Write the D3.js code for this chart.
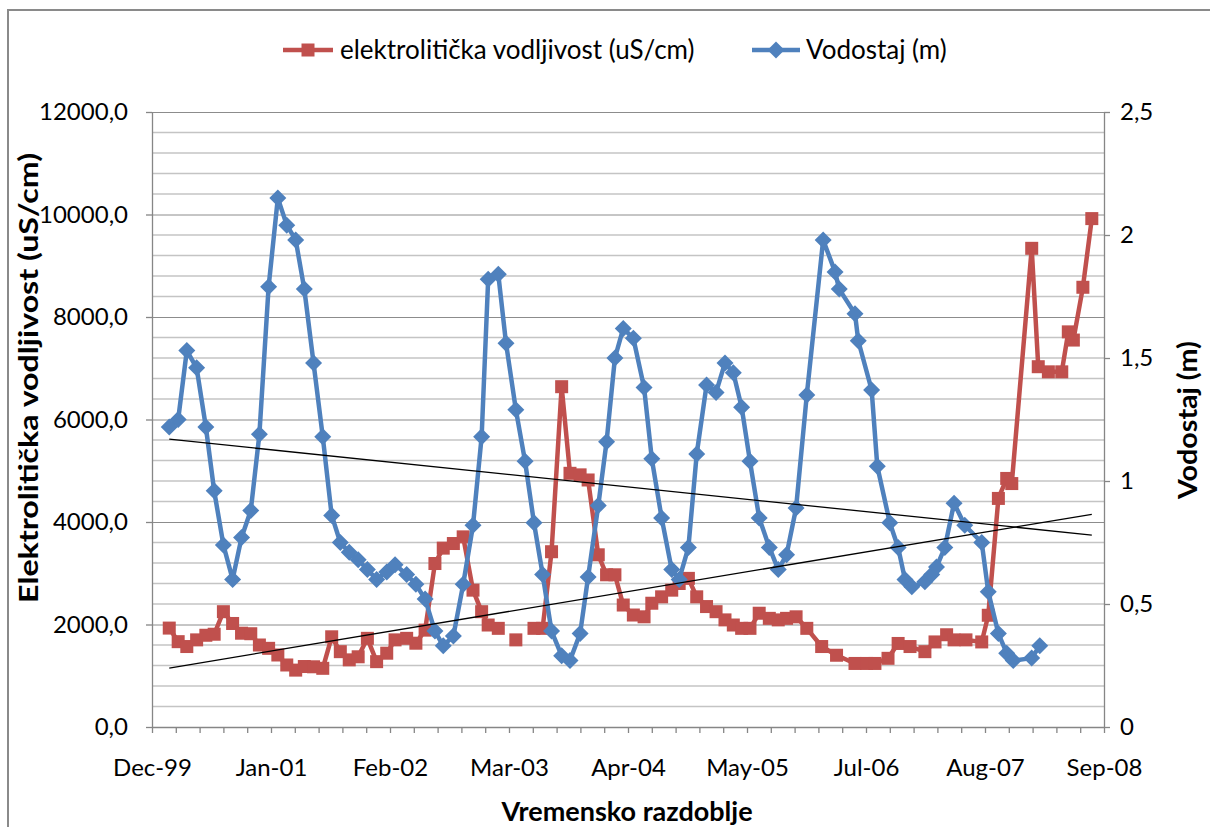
<!DOCTYPE html>
<html lang="hr">
<head>
<meta charset="UTF-8">
<title>Elektrolitička vodljivost i vodostaj</title>
<script src="https://cdn.jsdelivr.net/npm/d3@7"></script>
<style>
  body { margin: 0; background: #fff; }
  svg text { font-family: Lato, "Noto Sans", sans-serif; fill: #000; }
</style>
</head>
<body>
<svg width="1210" height="827"></svg>
<script>
// Vodostaj (m) - datumi mjerenja i vrijednosti
var datesVodostaj = [
  "2000-02-03","2000-03-04","2000-04-02","2000-05-05","2000-06-05","2000-07-03","2000-08-03","2000-09-03",
  "2000-10-03","2000-11-03","2000-12-02","2001-01-02","2001-02-02","2001-03-04","2001-04-03","2001-05-02",
  "2001-06-02","2001-07-03","2001-08-02","2001-08-31","2001-09-30","2001-10-30","2001-11-30","2001-12-31",
  "2002-02-03","2002-03-03","2002-04-11","2002-05-12","2002-06-12","2002-07-15","2002-08-12","2002-09-15",
  "2002-10-18","2002-11-20","2002-12-19","2003-01-10","2003-02-13","2003-03-11","2003-04-13","2003-05-14",
  "2003-06-13","2003-07-12","2003-08-11","2003-09-14","2003-10-12","2003-11-15","2003-12-12","2004-01-15",
  "2004-02-12","2004-03-11","2004-04-08","2004-05-12","2004-06-17","2004-07-13","2004-08-15","2004-09-18",
  "2004-10-13","2004-11-13","2004-12-11","2005-01-13","2005-02-14","2005-03-16","2005-04-13","2005-05-11",
  "2005-06-08","2005-07-09","2005-08-12","2005-09-11","2005-10-09","2005-11-10","2005-12-16","2006-02-09",
  "2006-03-21","2006-04-04","2006-05-27","2006-06-07","2006-07-22","2006-08-10","2006-09-21","2006-10-19",
  "2006-11-11","2006-12-04","2007-01-17","2007-02-09","2007-02-25","2007-03-25","2007-04-25","2007-05-31",
  "2007-07-27","2007-08-18","2007-09-21","2007-10-19","2007-11-10","2008-01-11","2008-02-07"
];
var vodostaj = [
  1.22, 1.25, 1.53, 1.46, 1.22, 0.96, 0.74, 0.60, 0.77, 0.88, 1.19, 1.79, 2.15, 2.04, 1.98, 1.78,
  1.48, 1.18, 0.86, 0.75, 0.71, 0.68, 0.64, 0.60, 0.63, 0.66, 0.62, 0.58, 0.52, 0.39, 0.33, 0.37,
  0.58, 0.82, 1.18, 1.82, 1.84, 1.56, 1.29, 1.08, 0.83, 0.62, 0.39, 0.29, 0.27, 0.38, 0.61, 0.90,
  1.16, 1.50, 1.62, 1.58, 1.38, 1.09, 0.85, 0.64, 0.60, 0.73, 1.11, 1.39, 1.36, 1.48, 1.44, 1.30,
  1.08, 0.85, 0.73, 0.64, 0.70, 0.89, 1.35, 1.98, 1.85, 1.78, 1.68, 1.57, 1.37, 1.06, 0.83, 0.73,
  0.60, 0.57, 0.59, 0.62, 0.65, 0.73, 0.91, 0.82, 0.75, 0.55, 0.38, 0.30, 0.27, 0.28, 0.33
];

// elektrolitička vodljivost (uS/cm); null = nema mjerenja
var datesVodljivost = datesVodostaj.slice(0, 71).concat([
  "2006-02-04","2006-03-26","2006-05-27","2006-07-05","2006-08-02","2006-09-15","2006-10-19","2006-11-28",
  "2007-01-17","2007-02-20","2007-03-31","2007-04-25","2007-06-04","2007-07-27","2007-08-18","2007-09-21",
  "2007-10-19","2007-11-05","2008-01-11","2008-02-02","2008-03-07","2008-04-21","2008-05-13","2008-05-30",
  "2008-07-01","2008-07-31"
]);
var vodljivost = [
  1930, 1665, 1570, 1700, 1790, 1810, 2250, 2020, 1830, 1820, 1600, 1535, 1405, 1210, 1110, 1180,
  1175, 1145, 1760, 1470, 1310, 1370, 1730, 1275, 1440, 1700, 1730, 1635, 1890, 3190, 3490, 3580,
  3710, 2670, 2250, 1990, 1925, null, 1700, null, 1925, 1925, 3420, 6640, 4950, 4920, 4820, 3360,
  2970, 2970, 2380, 2185, 2150, 2415, 2540, 2670, 2800, 2900, 2540, 2350, 2250, 2090, 1990, 1925,
  1925, 2220, 2120, 2090, 2120, 2150, 1925,
  1570, 1400, 1240, 1240, 1240, 1340, 1630, 1570, 1470, 1660, 1800, 1700, 1700, 1660, 2180, 4460,
  4850, 4750, 9340, 7030, 6930, 6930, 7710, 7550, 8580, 9920
];

// linear trendlines, values at first and last measurement date
var trendDates = ["2000-02-03", "2008-07-31"];
var trendVodljivost = [1150, 4150];
var trendVodostaj = [1.17, 0.78];

var leftTicks = [0, 2000, 4000, 6000, 8000, 10000, 12000];
var rightTicks = [0, 0.5, 1, 1.5, 2, 2.5];
var seriesNames = ["elektrolitička vodljivost (uS/cm)", "Vodostaj (m)"];
var redColor = "#C0504D", blueColor = "#4F81BD";

var parse = d3.timeParse("%Y-%m-%d");
var svg = d3.select("svg");
var plotL = 152, plotR = 1104, plotT = 112, plotB = 727;

// Excel date axis: start 7.12.1999, major unit 400 days, minor 80 days
var axisStart = new Date(1999, 11, 7);
var x = d3.scaleTime().domain([axisStart, d3.timeDay.offset(axisStart, 3200)]).range([plotL, plotR]);
var yL = d3.scaleLinear().domain([0, 12000]).range([plotB, plotT]);
var yR = d3.scaleLinear().domain([0, 2.5]).range([plotB, plotT]);

var vodData = datesVodostaj.map(function(d, i) { return { date: parse(d), v: vodostaj[i] }; });
var elData = datesVodljivost.map(function(d, i) { return { date: parse(d), v: vodljivost[i] }; });

// chart frame
svg.append("rect").attr("x", 8).attr("y", 10).attr("width", 1300).attr("height", 900)
  .attr("fill", "none").attr("stroke", "#8a8a8a").attr("stroke-width", 2);

// gridlines
var minorGrid = d3.range(400, 12000, 400).filter(function(d) { return d % 2000 != 0; });
svg.append("g").selectAll("line").data(minorGrid).enter().append("line")
  .attr("x1", plotL).attr("x2", plotR)
  .attr("y1", function(d) { return yL(d); }).attr("y2", function(d) { return yL(d); })
  .attr("stroke", "#c4c4c4").attr("stroke-width", 1.5);
svg.append("g").selectAll("line").data(leftTicks.slice(1)).enter().append("line")
  .attr("x1", plotL).attr("x2", plotR)
  .attr("y1", function(d) { return yL(d) + 0.5; }).attr("y2", function(d) { return yL(d) + 0.5; })
  .attr("stroke", "#8c8c8c").attr("stroke-width", 1);

// axes
var majorDates = d3.range(0, 3201, 400).map(function(d) { return d3.timeDay.offset(axisStart, d); });
var allDates = d3.range(0, 3201, 80).map(function(d) { return d3.timeDay.offset(axisStart, d); });
var fmtDate = d3.timeFormat("%b-%y");

function styleAxis(g, size) {
  g.attr("font-size", null).attr("font-family", null);
  g.select(".domain").attr("stroke", "#868686").attr("stroke-width", 1.3);
  g.selectAll(".tick line").attr("stroke", "#868686").attr("stroke-width", 1.3);
  g.selectAll(".tick text").style("font-size", size + "px");
}

svg.append("g").attr("transform", "translate(0," + plotB + ")")
  .call(d3.axisBottom(x).tickValues(allDates).tickSize(6).tickSizeOuter(0).tickPadding(26)
    .tickFormat(function(d) {
      return majorDates.some(function(m) { return +m == +d; }) ? fmtDate(d) : "";
    }))
  .call(styleAxis, 24);

svg.append("g").attr("transform", "translate(" + plotL + ",0)")
  .call(d3.axisLeft(yL).tickValues(leftTicks).tickSize(6).tickSizeOuter(0).tickPadding(18)
    .tickFormat(function(d) { return d3.format(".1f")(d).replace(".", ","); }))
  .call(styleAxis, 24);

svg.append("g").attr("transform", "translate(" + plotR + ",0)")
  .call(d3.axisRight(yR).tickValues(rightTicks).tickSize(6).tickSizeOuter(0).tickPadding(10)
    .tickFormat(function(d) { return String(d).replace(".", ","); }))
  .call(styleAxis, 24);

// axis titles
svg.append("text").attr("transform", "translate(29,378) rotate(-90)")
  .attr("text-anchor", "middle").attr("dy", "0.35em")
  .attr("textLength", 450).attr("lengthAdjust", "spacingAndGlyphs")
  .style("font-size", "26px").style("font-weight", "bold")
  .text("Elektrolitička vodljivost (uS/cm)");
svg.append("text").attr("transform", "translate(1188,420) rotate(-90)")
  .attr("text-anchor", "middle").attr("dy", "0.35em")
  .attr("textLength", 158).attr("lengthAdjust", "spacingAndGlyphs")
  .style("font-size", "27px").style("font-weight", "bold")
  .text("Vodostaj (m)");
svg.append("text").attr("x", 627).attr("y", 821)
  .attr("text-anchor", "middle")
  .style("font-size", "27px").style("font-weight", "bold")
  .text("Vremensko razdoblje");

// series
var diamond = "M0,-8.5L8.5,0L0,8.5L-8.5,0Z";

var lineEl = d3.line().defined(function(d) { return d.v != null; })
  .x(function(d) { return x(d.date); }).y(function(d) { return yL(d.v); });
svg.append("path").datum(elData).attr("d", lineEl)
  .attr("fill", "none").attr("stroke", redColor).attr("stroke-width", 4.5).attr("stroke-linejoin", "round");
svg.append("g").selectAll("rect").data(elData.filter(function(d) { return d.v != null; }))
  .enter().append("rect")
  .attr("x", function(d) { return x(d.date) - 6.5; }).attr("y", function(d) { return yL(d.v) - 6.5; })
  .attr("width", 13).attr("height", 13).attr("fill", redColor);

var lineVod = d3.line().x(function(d) { return x(d.date); }).y(function(d) { return yR(d.v); });
svg.append("path").datum(vodData).attr("d", lineVod)
  .attr("fill", "none").attr("stroke", blueColor).attr("stroke-width", 4.5).attr("stroke-linejoin", "round");
svg.append("g").selectAll("path").data(vodData).enter().append("path")
  .attr("d", diamond)
  .attr("transform", function(d) { return "translate(" + x(d.date) + "," + yR(d.v) + ")"; })
  .attr("fill", blueColor);

// trendlines
var tDates = trendDates.map(parse);
svg.append("line").attr("x1", x(tDates[0])).attr("x2", x(tDates[1]))
  .attr("y1", yL(trendVodljivost[0])).attr("y2", yL(trendVodljivost[1]))
  .attr("stroke", "#000").attr("stroke-width", 1.3);
svg.append("line").attr("x1", x(tDates[0])).attr("x2", x(tDates[1]))
  .attr("y1", yR(trendVodostaj[0])).attr("y2", yR(trendVodostaj[1]))
  .attr("stroke", "#000").attr("stroke-width", 1.3);

// legend
var lg = svg.append("g");
lg.append("line").attr("x1", 283).attr("x2", 333).attr("y1", 50).attr("y2", 50)
  .attr("stroke", redColor).attr("stroke-width", 4.5);
lg.append("rect").attr("x", 301.5).attr("y", 43.5).attr("width", 13).attr("height", 13).attr("fill", redColor);
lg.append("text").attr("x", 340).attr("y", 50).attr("dy", "0.35em").style("font-size", "26px").text(seriesNames[0]);
lg.append("line").attr("x1", 752).attr("x2", 800).attr("y1", 50).attr("y2", 50)
  .attr("stroke", blueColor).attr("stroke-width", 4.5);
lg.append("path").attr("d", diamond).attr("transform", "translate(776,50)").attr("fill", blueColor);
lg.append("text").attr("x", 806).attr("y", 50).attr("dy", "0.35em").style("font-size", "26px").text(seriesNames[1]);
</script>
</body>
</html>
